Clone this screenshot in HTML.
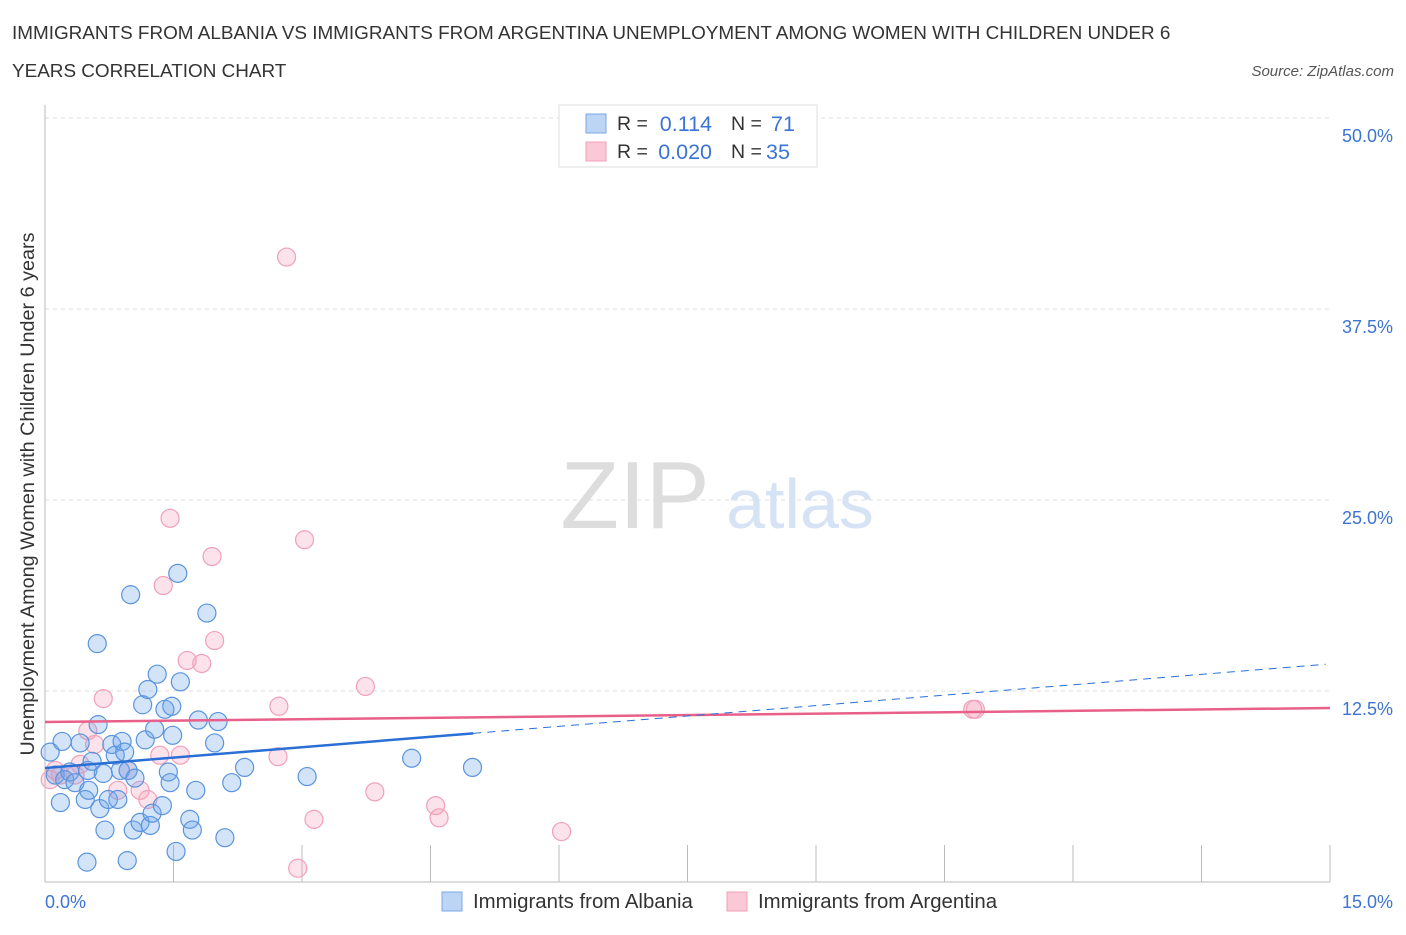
<!DOCTYPE html>
<html><head><meta charset="utf-8"><style>
body{margin:0;background:#fff;font-family:"Liberation Sans",sans-serif;}
svg text{font-family:"Liberation Sans",sans-serif;}
</style></head><body>
<svg id="chart" width="1406" height="930">
<text x="12" y="39" font-size="18.9" fill="#333">IMMIGRANTS FROM ALBANIA VS IMMIGRANTS FROM ARGENTINA UNEMPLOYMENT AMONG WOMEN WITH CHILDREN UNDER 6</text>
<text x="12" y="77" font-size="18.9" fill="#333">YEARS CORRELATION CHART</text>
<text x="1394" y="76" font-size="15" fill="#555" font-style="italic" text-anchor="end">Source: ZipAtlas.com</text>
<text x="34" y="494" font-size="19.8" fill="#333" text-anchor="middle" transform="rotate(-90 34 494)">Unemployment Among Women with Children Under 6 years</text>
<g id="grid"></g>
<text x="635" y="528" font-size="96" fill="#ddd" font-family="Liberation Serif" text-anchor="middle">ZIP</text>
<text x="800" y="528" font-size="70" fill="#d5e3f5" text-anchor="middle">atlas</text>
<g id="marks"></g>
<g>
<rect x="559" y="105" width="258" height="62" fill="#fff" stroke="#ddd"/>
<rect x="586" y="114" width="20" height="19" fill="#bcd5f5" stroke="#7aa8e6"/>
<rect x="586" y="142" width="20" height="19" fill="#fac8d6" stroke="#f0a0b8"/>
<text x="617" y="130" font-size="19.5" fill="#333">R =</text><text x="712" y="131" font-size="21.5" fill="#3b74d4" text-anchor="end">0.114</text>
<text x="731" y="130" font-size="19.5" fill="#333">N =</text><text x="771" y="131" font-size="21.5" fill="#3b74d4">71</text>
<text x="617" y="158" font-size="19.5" fill="#333">R =</text><text x="712" y="159" font-size="21.5" fill="#3b74d4" text-anchor="end">0.020</text>
<text x="731" y="158" font-size="19.5" fill="#333">N =</text><text x="766" y="159" font-size="21.5" fill="#3b74d4">35</text>
</g>
<g>
<rect x="442" y="892" width="20" height="19" fill="#bcd5f5" stroke="#7aa8e6"/>
<text x="473" y="908" font-size="20.4" fill="#333">Immigrants from Albania</text>
<rect x="727" y="892" width="20" height="19" fill="#fac8d6" stroke="#f0a0b8"/>
<text x="758" y="908" font-size="20.4" fill="#333">Immigrants from Argentina</text>
</g>
</svg>
<script>
const xTicks=[0,1.5,3,4.5,6,7.5,9,10.5,12,13.5,15];
const yTicks=[12.5,25,37.5,50];
const yTickLabels=["12.5%","25.0%","37.5%","50.0%"];
const albaniaX=[0.06,0.20,0.18,0.12,0.23,0.29,0.35,0.41,0.47,0.50,0.55,0.61,0.62,0.64,0.68,0.70,0.74,0.78,0.82,0.85,0.88,0.90,0.93,0.97,1.00,1.03,1.05,1.11,1.14,1.17,1.20,1.23,1.25,1.28,1.31,1.37,1.40,1.44,1.46,1.48,1.49,1.53,1.55,1.58,1.69,1.72,1.76,1.79,1.89,1.98,2.02,2.10,2.18,2.33,3.06,4.28,4.99,0.49,0.96,0.51];
const albaniaY=[8.5,9.2,5.2,7.0,6.7,7.2,6.5,9.1,5.4,7.3,7.9,15.6,10.3,4.8,7.1,3.4,5.4,9.0,8.3,5.4,7.3,9.2,8.5,7.3,18.8,3.4,6.8,3.9,11.6,9.3,12.6,3.7,4.5,10.0,13.6,5.0,11.3,7.2,6.5,11.5,9.6,2.0,20.2,13.1,4.1,3.4,6.0,10.6,17.6,9.1,10.5,2.9,6.5,7.5,6.9,8.1,7.5,1.3,1.4,6.0];
const argentinaX=[2.82,1.46,1.95,3.03,1.38,1.98,1.66,1.83,0.68,2.73,3.74,2.72,1.58,1.34,0.97,0.85,1.11,1.20,3.14,3.85,4.56,4.60,6.03,2.95,10.83,10.86,0.50,0.58,0.12,0.06,0.18,0.35,0.41];
const argentinaY=[40.9,23.8,21.3,22.4,19.4,15.8,14.5,14.3,12.0,11.5,12.8,8.2,8.3,8.3,7.3,6.0,6.0,5.4,4.1,5.9,5.0,4.2,3.3,0.9,11.3,11.3,9.9,9.0,7.3,6.7,7.0,7.0,7.7];
const albaniaTrend=[7.46,0.454];
const argentinaTrend=[10.47,0.061];
const NS="http://www.w3.org/2000/svg";
const X=v=>45+v/15*1285, Y=v=>882-v/50*764;
function mk(tag,attrs,parent){const e=document.createElementNS(NS,tag);for(const k in attrs)e.setAttribute(k,attrs[k]);parent.appendChild(e);return e;}
const grid=document.getElementById('grid'), marks=document.getElementById('marks');
yTicks.forEach((t,i)=>{
 const g=mk('line',{x1:45,x2:1330,y1:Y(t),y2:Y(t),stroke:'#ddd','stroke-dasharray':'4,4'},grid);
 
 
 const l=mk('text',{x:1393,y:Y(t)+24,'font-size':18,fill:'#3b74d4','text-anchor':'end'},grid);l.textContent=yTickLabels[i];
 
 
});
mk('line',{x1:45,x2:45,y1:105,y2:882,stroke:'#bbb'},grid);
mk('line',{x1:45,x2:1330,y1:882,y2:882,stroke:'#bbb'},grid);
xTicks.forEach(t=>{const l=mk('line',{x1:X(t),x2:X(t),y1:845,y2:882,stroke:'#bbb'},grid);
 
 });
let t0=mk('text',{x:45,y:908,'font-size':18,fill:'#3b74d4'},grid);t0.textContent='0.0%';


let t1=mk('text',{x:1393,y:908,'font-size':18,fill:'#3b74d4','text-anchor':'end'},grid);t1.textContent='15.0%';


function pts(xs,ys,fill,stroke,name){xs.forEach((x,i)=>{const c=mk('circle',{cx:X(x),cy:Y(ys[i]),r:9,fill:fill,stroke:stroke,'stroke-width':1.2},marks);
 
 });}
pts(argentinaX,argentinaY,'rgba(245,160,185,0.3)','#f0a0b8','argentina-point');
pts(albaniaX,albaniaY,'rgba(110,165,235,0.3)','#5a94de','albania-point');
const pl=mk('line',{x1:X(0),y1:Y(argentinaTrend[0]),x2:X(15),y2:Y(argentinaTrend[0]+argentinaTrend[1]*15),stroke:'#e8608a','stroke-width':2.5},marks);


const bl=mk('line',{x1:X(0),y1:Y(albaniaTrend[0]),x2:X(5),y2:Y(albaniaTrend[0]+albaniaTrend[1]*5),stroke:'#2a6fd6','stroke-width':2.5},marks);


const bd=mk('line',{x1:X(5),y1:Y(albaniaTrend[0]+albaniaTrend[1]*5),x2:X(14.95),y2:Y(albaniaTrend[0]+albaniaTrend[1]*14.95),stroke:'#2a6fd6','stroke-width':1,'stroke-dasharray':'8,6'},marks);


</script>
</body></html>
